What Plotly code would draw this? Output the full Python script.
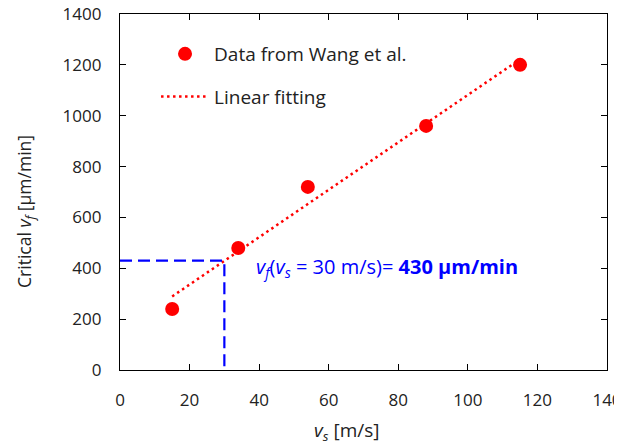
import numpy as np
import plotly.graph_objects as go

vs = [15, 34, 54, 88, 115]
vf = [240, 480, 720, 960, 1200]
fit_x_range = [15, 115]
ref_vs = 30
ref_vf = 430
x_ticks = [0, 20, 40, 60, 80, 100, 120, 140]
y_ticks = [0, 200, 400, 600, 800, 1000, 1200, 1400]

slope, intercept = np.polyfit(vs, vf, 1)
fit_x = np.array(fit_x_range)
fit_y = slope * fit_x + intercept

FONT = "Open Sans"
TXT = "#222222"
fig = go.Figure()
fig.add_trace(go.Scatter(x=vs, y=vf, mode="markers", name="Data from Wang et al.",
                         legendgroup="a",
                         marker=dict(color="#ff0000", size=14)))
fig.add_trace(go.Scatter(x=fit_x, y=fit_y, mode="lines", name="Linear fitting",
                         legendgroup="b",
                         line=dict(color="#ff0000", width=2.5, dash="2.5px,3.5px")))
fig.add_trace(go.Scatter(x=[0, ref_vs, ref_vs], y=[ref_vf, ref_vf, 0], mode="lines",
                         showlegend=False,
                         line=dict(color="#0000ff", width=2.2, dash="12px,6px")))

fig.add_annotation(x=38.4, y=402, xanchor="left", yanchor="middle", showarrow=False,
                   text="<i>v</i><sub><i>f</i></sub>(<i>v</i><sub><i>s</i></sub> = 30 m/s)= <b>430 μm/min</b>",
                   font=dict(family=FONT, size=20, color="#0000ff"))

# axis titles (placed as in the reference, slightly off-centre)
fig.add_annotation(xref="paper", yref="paper", x=0.466, y=-0.172,
                   xanchor="center", yanchor="middle", showarrow=False,
                   text="<i>v</i><sub><i>s</i></sub> [m/s]",
                   font=dict(family=FONT, size=19, color=TXT))
fig.add_annotation(xref="paper", yref="paper", x=-0.193, y=0.444,
                   xanchor="center", yanchor="middle", showarrow=False, textangle=-90,
                   text="Critical <i>v</i><sub><i>f</i></sub> [μm/min]",
                   font=dict(family=FONT, size=17.5, color=TXT))

axis_common = dict(showline=True, linecolor="black", linewidth=1.2, mirror="ticks",
                   ticks="inside", ticklen=6, tickcolor="black", showgrid=False,
                   zeroline=False, automargin=False, ticklabeloverflow="allow",
                   tickfont=dict(family=FONT, size=17, color=TXT))
fig.update_xaxes(range=[0, 140], tickvals=x_ticks, ticktext=[str(t) for t in x_ticks],
                 ticklabelstandoff=14, **axis_common)
fig.update_yaxes(range=[0, 1400], tickvals=y_ticks, ticktext=[str(t) for t in y_ticks],
                 ticklabelstandoff=14, **axis_common)

fig.update_layout(width=614, height=439, margin=dict(l=112, r=15, t=6, b=77),
                  plot_bgcolor="white", paper_bgcolor="white",
                  legend=dict(x=0.074, y=0.941, xanchor="left", yanchor="top",
                              bgcolor="rgba(0,0,0,0)", tracegroupgap=15,
                              font=dict(family=FONT, size=19, color=TXT),
                              itemwidth=48))
fig.write_html("out.html")
